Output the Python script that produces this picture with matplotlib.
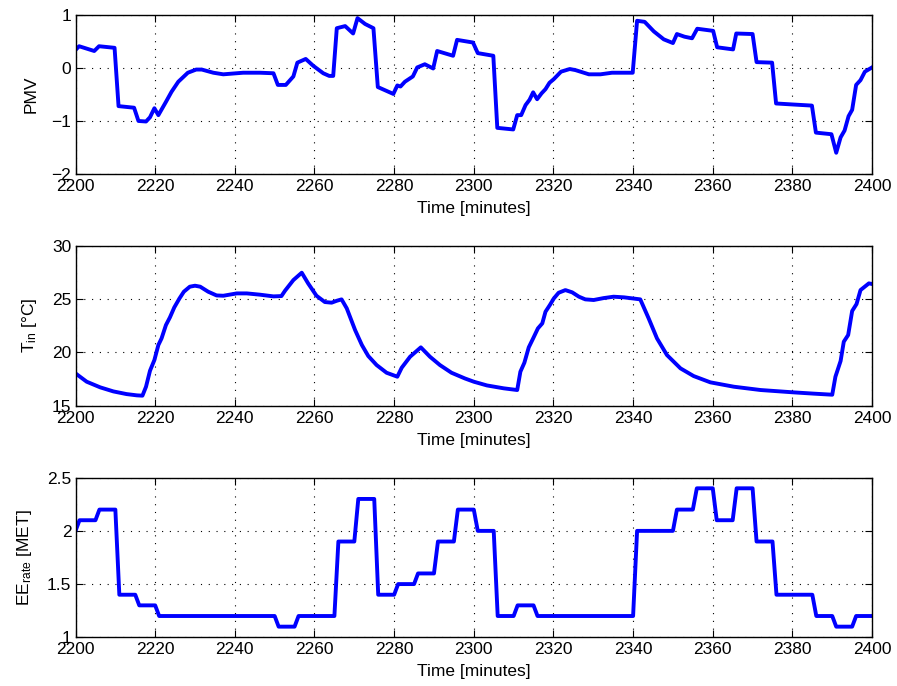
import matplotlib
matplotlib.use("Agg")
import numpy as np
import matplotlib.pyplot as plt

plt.rcParams['font.family'] = ['Liberation Sans', 'DejaVu Sans']
plt.rcParams['font.size'] = 12.5

# PMV
t_pmv = [2200, 2200.9, 2204.7, 2205.9, 2209.8, 2210.8, 2214.7, 2215.8, 2217.7, 2218.7,
         2219.8, 2220.8, 2222.7, 2224.1, 2225.8, 2228.2, 2230.3, 2231.7, 2234.6, 2237.1,
         2242.1, 2246.3, 2249.7, 2250.8, 2252.8, 2254.7, 2255.7, 2257.8, 2259.7, 2262.2,
         2263.7, 2264.7, 2265.6, 2267.7, 2269.7, 2270.8, 2272.7, 2274.8, 2275.9, 2279.8,
         2280.8, 2281.6, 2282.7, 2284.7, 2285.8, 2287.7, 2289.8, 2290.8, 2294.8, 2295.8,
         2299.8, 2301.0, 2304.9, 2305.9, 2309.9, 2310.9, 2311.9, 2313.0, 2314.0, 2314.9,
         2315.9, 2317.0, 2318.0, 2319.0, 2320.1, 2321.9, 2324.1, 2325.5, 2328.9, 2331.8,
         2334.7, 2339.9, 2341.0, 2342.9, 2345.2, 2347.7, 2350.0, 2351.0, 2352.9, 2354.8,
         2356.1, 2360.1, 2361.1, 2365.1, 2365.9, 2370.0, 2371.0, 2374.9, 2375.9, 2380.3,
         2384.9, 2385.9, 2389.8, 2391.0, 2392.1, 2393.1, 2394.1, 2395.0, 2396.0, 2397.1,
         2398.2, 2400]
pmv = [0.34, 0.41, 0.32, 0.41, 0.38, -0.72, -0.75, -1.0, -1.01, -0.93,
       -0.76, -0.89, -0.64, -0.45, -0.26, -0.09, -0.03, -0.03, -0.09, -0.12,
       -0.09, -0.09, -0.10, -0.32, -0.32, -0.16, 0.10, 0.17, 0.04, -0.10,
       -0.15, -0.15, 0.75, 0.79, 0.65, 0.94, 0.83, 0.75, -0.36, -0.49,
       -0.33, -0.35, -0.26, -0.16, 0.01, 0.07, -0.01, 0.32, 0.23, 0.53,
       0.48, 0.28, 0.23, -1.13, -1.16, -0.89, -0.89, -0.70, -0.60, -0.46,
       -0.59, -0.48, -0.40, -0.28, -0.21, -0.07, -0.02, -0.04, -0.12, -0.12,
       -0.09, -0.09, 0.89, 0.87, 0.69, 0.54, 0.47, 0.64, 0.59, 0.56,
       0.74, 0.70, 0.39, 0.35, 0.65, 0.64, 0.11, 0.10, -0.67, -0.69,
       -0.71, -1.22, -1.25, -1.60, -1.31, -1.18, -0.91, -0.79, -0.32, -0.23,
       -0.07, 0.01]

# indoor temperature
t_tin = [2200, 2202.8, 2206.2, 2209.5, 2212.8, 2215.4, 2216.8, 2217.7, 2218.7, 2219.8,
         2220.8, 2221.6, 2222.7, 2223.7, 2224.8, 2226.1, 2227.2, 2228.7, 2230.0, 2231.3,
         2233.3, 2235.4, 2237.1, 2240.5, 2243.0, 2246.3, 2249.7, 2251.7, 2252.6, 2254.7,
         2256.8, 2258.4, 2260.5, 2262.6, 2264.3, 2265.6, 2266.8, 2268.1, 2270.2, 2271.9,
         2273.5, 2275.6, 2278.1, 2280.8, 2281.9, 2284.0, 2286.7, 2289.0, 2291.5, 2294.4,
         2297.8, 2300, 2303.3, 2307.5, 2310.9, 2311.7, 2312.7, 2313.8, 2314.9, 2316.1,
         2317.2, 2318.0, 2319.1, 2320.1, 2321.3, 2323.0, 2324.7, 2326.4, 2328.0, 2330.1,
         2332.6, 2335.1, 2337.7, 2341.8, 2343.9, 2346.0, 2348.5, 2351.9, 2355.2, 2359.4,
         2365.3, 2372.0, 2380.3, 2385.4, 2390.0, 2390.8, 2392.1, 2392.9, 2394.0, 2395.0,
         2396.1, 2397.1, 2399.2, 2400]
tin = [18.03, 17.25, 16.72, 16.34, 16.09, 15.97, 15.94, 16.78, 18.28, 19.28,
       20.69, 21.31, 22.56, 23.28, 24.22, 25.06, 25.69, 26.16, 26.25, 26.16,
       25.69, 25.34, 25.31, 25.53, 25.53, 25.41, 25.25, 25.28, 25.78, 26.78,
       27.47, 26.47, 25.31, 24.72, 24.66, 24.84, 24.97, 24.13, 22.09, 20.69,
       19.66, 18.81, 18.09, 17.72, 18.56, 19.59, 20.47, 19.59, 18.81, 18.09,
       17.55, 17.25, 16.90, 16.63, 16.47, 18.19, 19.03, 20.47, 21.31, 22.25,
       22.72, 23.81, 24.44, 25.06, 25.59, 25.84, 25.63, 25.22, 24.97, 24.91,
       25.09, 25.22, 25.16, 24.97, 23.19, 21.31, 19.75, 18.50, 17.78, 17.19,
       16.78, 16.47, 16.25, 16.13, 16.03, 17.72, 19.19, 21.00, 21.63, 23.88,
       24.53, 25.84, 26.47, 26.41]

# energy expenditure rate
t_ee = [2200, 2201, 2205, 2206, 2210, 2211, 2215, 2216, 2220, 2221,
        2250, 2251, 2255, 2256, 2265, 2266, 2270, 2271, 2275, 2276,
        2280, 2281, 2285, 2286, 2290, 2291, 2295, 2296, 2300, 2301,
        2305, 2306, 2310, 2311, 2315, 2316, 2340, 2341, 2350, 2351,
        2355, 2356, 2360, 2361, 2365, 2366, 2370, 2371, 2375, 2376,
        2385, 2386, 2390, 2391, 2395, 2396, 2400]
ee = [2.0, 2.1, 2.1, 2.2, 2.2, 1.4, 1.4, 1.3, 1.3, 1.2,
      1.2, 1.1, 1.1, 1.2, 1.2, 1.9, 1.9, 2.3, 2.3, 1.4,
      1.4, 1.5, 1.5, 1.6, 1.6, 1.9, 1.9, 2.2, 2.2, 2.0,
      2.0, 1.2, 1.2, 1.3, 1.3, 1.2, 1.2, 2.0, 2.0, 2.2,
      2.2, 2.4, 2.4, 2.1, 2.1, 2.4, 2.4, 1.9, 1.9, 1.4,
      1.4, 1.2, 1.2, 1.1, 1.1, 1.2, 1.2]

fig = plt.figure(figsize=(8.97, 6.86), dpi=100)

panels = [
    ([0.0842, 0.7464, 0.888, 0.2318], t_pmv, pmv, (-2, 1), [-2, -1, 0, 1], ['\u22122', '\u22121', '0', '1'], 'PMV'),
    ([0.0842, 0.4086, 0.888, 0.2332], t_tin, tin, (15, 30), [15, 20, 25, 30], ['15', '20', '25', '30'],
     r'$\mathregular{T_{in}}$ [°C]'),
    ([0.0842, 0.0710, 0.888, 0.2327], t_ee, ee, (1, 2.5), [1, 1.5, 2, 2.5], ['1', '1.5', '2', '2.5'],
     r'$\mathregular{EE_{rate}}$ [MET]'),
]

for rect, x, y, ylim, yt, ytl, lab in panels:
    ax = fig.add_axes(rect)
    ax.plot(x, y, color='#0000ff', lw=2.8, solid_joinstyle='round')
    ax.set_xlim(2200, 2400)
    ax.set_ylim(*ylim)
    ax.set_xticks(np.arange(2200, 2401, 20))
    ax.set_yticks(yt)
    ax.set_yticklabels(ytl)
    ax.grid(True, color='black', linestyle=(0, (1, 6)), lw=0.8)
    ax.tick_params(direction='in', top=True, right=True, length=5, width=0.8,
                   labelsize=12.5, pad=3)
    ax.tick_params(axis='x', pad=3.5)
    for s in ax.spines.values():
        s.set_linewidth(1.0)
    ax.set_xlabel('Time [minutes]', fontsize=12.5, labelpad=5)
    ax.set_ylabel(lab, fontsize=12.5, labelpad=9)

fig.savefig('out.png', dpi=100)
